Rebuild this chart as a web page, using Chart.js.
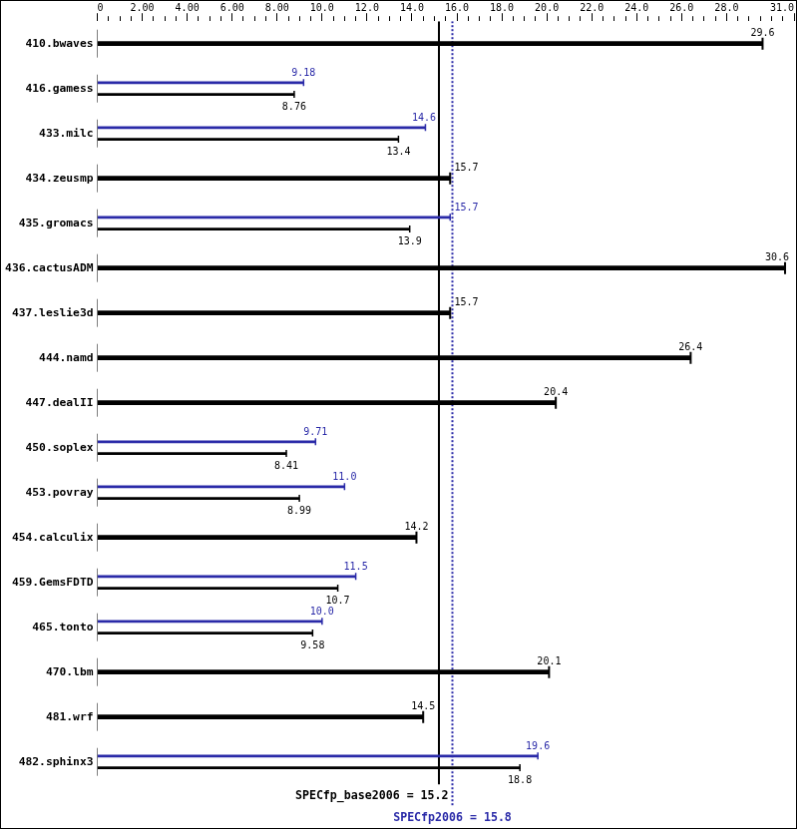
<!DOCTYPE html>
<html>
<head>
<meta charset="utf-8">
<title>SPECfp2006</title>
<script src="https://cdn.jsdelivr.net/npm/chart.js@4.4.1/dist/chart.umd.min.js"></script>
<style>
    html, body { margin: 0; padding: 0; background: #fff; }
    #chart { display: block; border: 1px solid #000; }
</style>
</head>
<body>
<canvas id="chart" width="797" height="829"></canvas>
<script>
// البيانات
const benchmarks = ['410.bwaves', '416.gamess', '433.milc', '434.zeusmp', '435.gromacs',
    '436.cactusADM', '437.leslie3d', '444.namd', '447.dealII', '450.soplex', '453.povray',
    '454.calculix', '459.GemsFDTD', '465.tonto', '470.lbm', '481.wrf', '482.sphinx3'];
const baseScores = [29.6, 8.76, 13.4, 15.7, 13.9, 30.6, 15.7, 26.4, 20.4, 8.41, 8.99, 14.2, 10.7, 9.58, 20.1, 14.5, 18.8];
const peakScores = [29.6, 9.18, 14.6, 15.7, 15.7, 30.6, 15.7, 26.4, 20.4, 9.71, 11.0, 14.2, 11.5, 10.0, 20.1, 14.5, 19.6];
const specBase = 15.2;
const specPeak = 15.8;
const axisMax = 31;

const BLUE = '#2a2aa8';
const MONO = '"DejaVu Sans Mono", monospace';
const PAIR_OFFSET = 0.13;

// rows where base and peak match get one thick bar
const rows = benchmarks.map((name, i) => ({
    i: i, base: baseScores[i], peak: peakScores[i], same: baseScores[i] === peakScores[i]
}));
const singleBars = rows.filter(r => r.same).map(r => ({ x: r.base, y: r.i }));
const peakBars = rows.filter(r => !r.same).map(r => ({ x: r.peak, y: r.i - PAIR_OFFSET }));
const baseBars = rows.filter(r => !r.same).map(r => ({ x: r.base, y: r.i + PAIR_OFFSET }));

function fmt(v) {
    return v === 0 ? '0' : v.toPrecision(3);
}

function isMajor(v) {
    return v === axisMax || (v % 2 === 0 && axisMax - v >= 2);
}

function capSet(data, color, radius, width) {
    return {
        type: 'line', data: data, showLine: false, order: 0,
        pointStyle: 'line', rotation: 90, pointRadius: radius,
        pointBorderWidth: width, pointBorderColor: color, pointBackgroundColor: color
    };
}

function barSet(data, color, thickness) {
    return {
        type: 'bar', data: data, backgroundColor: color, borderWidth: 0,
        barThickness: thickness, grouped: false, order: 1
    };
}

// كتابة القيم والخطوط المرجعية
const valueLabels = {
    id: 'valueLabels',
    afterDatasetsDraw(chart) {
        const { ctx, scales: { x, y } } = chart;
        const basePx = x.getPixelForValue(specBase);
        const peakPx = x.getPixelForValue(specPeak);

        ctx.save();
        ctx.textBaseline = 'middle';
        ctx.textAlign = 'left';
        ctx.font = '10px ' + MONO;

        function put(v, rowY, dy, color) {
            const txt = fmt(v);
            const w = ctx.measureText(txt).width;
            const cap = x.getPixelForValue(v);
            let left = cap - w / 2;
            if (left < peakPx + 2 && left + w > basePx - 2) {
                left = cap > basePx ? peakPx + 2 : basePx - 3 - w;
            }
            left = Math.min(left, x.right - 5 - w);
            ctx.fillStyle = color;
            ctx.fillText(txt, left, y.getPixelForValue(rowY) + dy);
        }

        rows.forEach(r => {
            if (r.same) {
                put(r.base, r.i, -10.3, '#000');
            } else {
                put(r.peak, r.i, -15, BLUE);
                put(r.base, r.i, 18.6, '#000');
            }
        });

        ctx.font = 'bold 11.6px ' + MONO;
        ctx.fillStyle = '#000';
        ctx.textAlign = 'right';
        ctx.fillText('SPECfp_base2006 = ' + specBase.toFixed(1), peakPx - 4, y.getPixelForValue(16.76));
        ctx.fillStyle = BLUE;
        ctx.textAlign = 'center';
        ctx.fillText('SPECfp2006 = ' + specPeak.toFixed(1), peakPx, y.getPixelForValue(17.24));
        ctx.restore();
    }
};

new Chart(document.getElementById('chart'), {
    type: 'bar',
    data: {
        datasets: [
            barSet(singleBars, '#000', 4),
            barSet(peakBars, BLUE, 2),
            barSet(baseBars, '#000', 2),
            capSet(singleBars, '#000', 6, 2),
            capSet(peakBars, BLUE, 3.5, 1.5),
            capSet(baseBars, '#000', 3.5, 1.5),
            capSet(rows.map(r => ({ x: 0, y: r.i })), '#000', 14, 1),
            {
                type: 'line', data: [{ x: specBase, y: -0.5 }, { x: specBase, y: 16.5 }],
                borderColor: '#000', borderWidth: 2, pointRadius: 0, order: 5
            },
            {
                type: 'line', data: [{ x: specPeak, y: -0.5 }, { x: specPeak, y: 17.0 }],
                borderColor: BLUE, borderWidth: 2, borderDash: [2, 2], pointRadius: 0, order: 5
            }
        ]
    },
    options: {
        indexAxis: 'y',
        responsive: false,
        animation: false,
        events: [],
        layout: { autoPadding: false, padding: { left: 0, right: 2, top: 0, bottom: 3.3 } },
        plugins: { legend: { display: false }, tooltip: { enabled: false } },
        scales: {
            x: {
                type: 'linear', position: 'top', min: 0, max: axisMax,
                border: { display: false },
                grid: {
                    drawOnChartArea: false, tickLength: 8, tickColor: '#000', tickWidth: 1,
                    tickBorderDash: c => isMajor(c.tick.value) ? [] : [0, 3, 5]
                },
                ticks: {
                    stepSize: 0.5, autoSkip: false, maxRotation: 0, align: 'inner', padding: -1.5,
                    color: '#000', font: { family: MONO, size: 10 },
                    callback: v => isMajor(v) ? fmt(v) : ''
                },
                afterFit: s => { s.height = 20.2; s.paddingLeft = 0; s.paddingRight = 0; }
            },
            y: {
                type: 'linear', reverse: true, min: -0.5, max: 17.4, offset: false,
                border: { display: false },
                grid: { display: false, drawTicks: false, offset: false },
                ticks: {
                    stepSize: 1, autoSkip: false, padding: 4, color: '#000',
                    font: { family: MONO, size: 11.3, weight: 'bold' },
                    callback: v => benchmarks[v] || ''
                },
                afterFit: s => { s.width = 96.5; s.paddingTop = 0; s.paddingBottom = 0; }
            }
        }
    },
    plugins: [valueLabels]
});
</script>
</body>
</html>
